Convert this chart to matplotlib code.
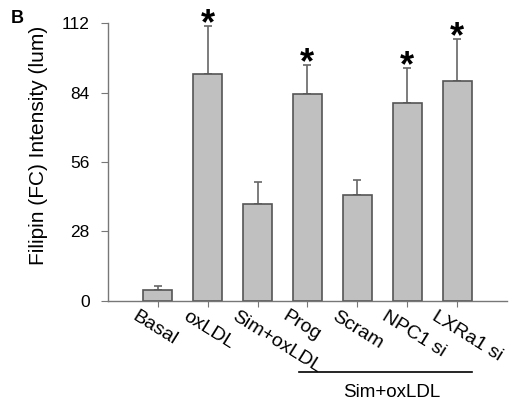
import numpy as np
import matplotlib.pyplot as plt
import matplotlib.transforms as mtransforms

labels = ['Basal', 'oxLDL', 'Sim+oxLDL', 'Prog', 'Scram', 'NPC1 si', 'LXRa1 si']
means = [4.5, 91.5, 39.0, 83.4, 42.7, 79.8, 88.6]
errors = [1.6, 19.3, 9.0, 11.6, 6.0, 14.1, 17.0]
signif = [False, True, False, True, False, True, True]
group_label = 'Sim+oxLDL'

plt.rcParams['font.family'] = ['Liberation Sans', 'DejaVu Sans']

fig = plt.figure(figsize=(5.21, 4.04), dpi=100)
ax = fig.add_axes([0.207, 0.255, 0.766, 0.688])

x = np.arange(len(labels))
ax.bar(x, means, width=0.58, color='#c0c0c0', edgecolor='#555555', linewidth=1.2, zorder=2)
ax.errorbar(x, means, yerr=[np.zeros(len(errors)), errors], fmt='none',
            ecolor='#666666', elinewidth=1.2, capsize=3, capthick=1.2, zorder=1)

for xi, m, e, s in zip(x, means, errors, signif):
    if s:
        ax.text(xi, m + e - 6.5, '*', ha='center', va='bottom', fontsize=26,
                fontweight='bold', color='black')

ax.set_xlim(-1, 7)
ax.set_ylim(0, 112)
ax.set_yticks([0, 28, 56, 84, 112])
ax.tick_params(axis='y', labelsize=12.5, length=5, color='#777777', pad=8)
ax.tick_params(axis='x', length=4, color='#777777')
ax.set_xticks(x)
ax.set_xticklabels([])

# rotated category labels, anchored a bit left of each tick
offset = mtransforms.ScaledTranslation(-19 / 100, -7 / 100, fig.dpi_scale_trans)
for xi, lab in zip(x, labels):
    ax.text(xi, 0, lab, rotation=-32, rotation_mode='anchor', ha='left', va='top',
            fontsize=14, transform=ax.get_xaxis_transform() + offset)

for side in ['top', 'right']:
    ax.spines[side].set_visible(False)
for side in ['left', 'bottom']:
    ax.spines[side].set_color('#777777')
    ax.spines[side].set_linewidth(1.0)

ax.set_ylabel('Filipin (FC) Intensity (lum)', fontsize=15)
ax.yaxis.set_label_coords(-0.15, 0.56)

trans = ax.get_xaxis_transform()
ax.plot([2.84, 6.3], [-0.255, -0.255], color='black', linewidth=1.2, transform=trans, clip_on=False)
ax.text(4.7, -0.33, group_label, ha='center', va='center', fontsize=13.5, transform=trans)

fig.text(0.02, 0.955, 'B', fontsize=13, fontweight='bold', ha='left', va='center')

fig.savefig('out.png', dpi=100)
